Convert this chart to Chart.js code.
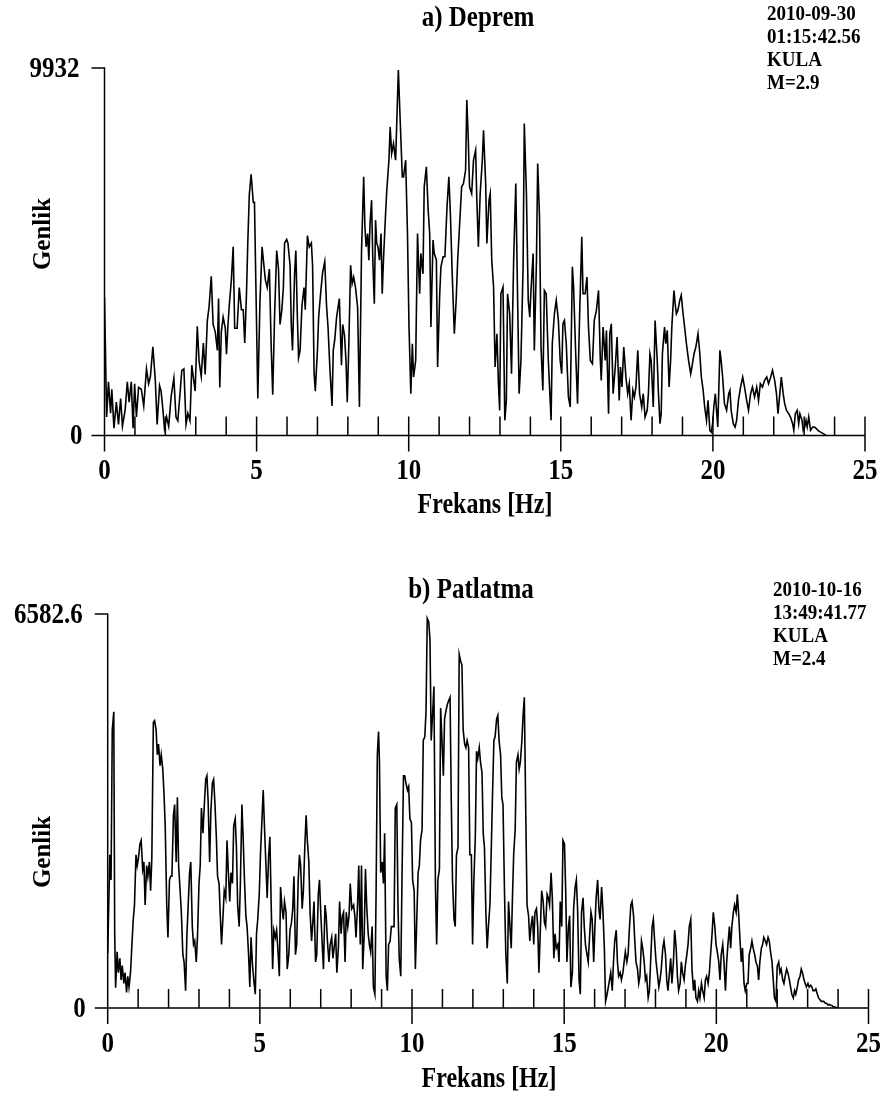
<!DOCTYPE html>
<html>
<head>
<meta charset="utf-8">
<script src="https://cdn.jsdelivr.net/npm/chart.js@4.4.1/dist/chart.umd.min.js"></script>
<style>
  body { margin: 0; background: #fff; }
  canvas { position: absolute; left: 0; }
</style>
</head>
<body>
<canvas id="deprem" width="885" height="550" style="top:0"></canvas>
<canvas id="patlatma" width="885" height="550" style="top:550px"></canvas>
<script>
// a) Deprem - frekans (Hz) / genlik
var freqA = [
  0.00,0.07,0.13,0.20,0.24,0.31,0.39,0.46,0.53,0.59,
  0.68,0.75,0.81,0.88,0.94,0.99,1.05,1.12,1.21,1.29,
  1.38,1.45,1.51,1.59,1.67,1.73,1.81,1.86,1.92,1.97,
  2.04,2.11,2.19,2.28,2.35,2.41,2.48,2.54,2.61,2.68,
  2.74,2.81,2.87,2.94,2.98,3.05,3.11,3.18,3.25,3.31,
  3.38,3.44,3.51,3.57,3.64,3.71,3.75,3.79,3.84,3.90,
  3.97,4.01,4.06,4.10,4.17,4.23,4.28,4.36,4.43,4.50,
  4.56,4.61,4.67,4.71,4.76,4.82,4.89,4.93,4.98,5.04,
  5.11,5.18,5.24,5.29,5.35,5.42,5.48,5.53,5.59,5.66,
  5.72,5.77,5.83,5.88,5.92,5.99,6.03,6.10,6.14,6.18,
  6.25,6.29,6.34,6.38,6.43,6.49,6.56,6.60,6.67,6.73,
  6.80,6.84,6.89,6.93,7.00,7.04,7.11,7.17,7.24,7.30,
  7.35,7.41,7.48,7.52,7.57,7.63,7.72,7.79,7.83,7.89,
  7.94,7.98,8.03,8.09,8.14,
  8.19,8.25,8.32,8.38,8.45,8.52,8.56,8.60,8.65,8.69,
  8.73,8.78,8.82,8.87,8.91,8.95,8.99,9.04,9.09,9.13,
  9.17,9.24,9.28,9.35,9.39,9.44,9.50,9.57,9.61,9.66,
  9.72,9.79,9.83,9.90,9.96,10.01,10.07,10.12,10.16,10.23,
  10.29,10.36,10.40,10.47,10.51,10.58,10.64,10.69,10.73,10.80,
  10.84,10.91,10.95,11.02,11.06,11.13,11.19,11.26,11.32,11.37,
  11.43,11.50,11.56,11.61,11.67,11.74,11.80,11.87,11.91,11.96,
  12.00,12.07,12.13,12.20,12.24,12.29,12.35,12.42,12.46,12.53,
  12.57,12.64,12.68,12.73,12.79,12.84,12.90,12.95,12.99,13.03,
  13.10,13.16,13.21,13.25,13.32,13.38,13.45,13.52,13.56,13.63,
  13.69,13.76,13.80,13.87,13.93,13.98,14.02,14.09,14.13,14.20,
  14.24,14.30,14.35,14.41,14.46,14.52,14.59,14.68,14.72,14.79,
  14.85,14.92,14.98,15.03,15.07,15.12,15.18,15.25,15.31,15.38,
  15.42,15.49,15.55,15.62,15.69,15.73,15.80,15.86,15.91,15.97,
  16.04,16.10,16.17,16.24,16.30,
  16.33,16.39,16.46,16.50,16.57,16.61,16.66,16.72,16.79,16.85,
  16.92,16.96,17.01,17.07,17.14,17.20,17.25,17.31,17.37,17.42,
  17.47,17.53,17.59,17.66,17.71,17.77,17.84,17.88,17.93,17.97,
  18.04,18.10,18.17,18.21,18.26,18.30,18.34,18.41,18.45,18.50,
  18.56,18.61,18.65,18.72,18.76,18.80,18.85,18.91,18.96,19.02,
  19.07,19.13,19.20,19.27,19.31,19.38,19.44,19.51,19.57,19.62,
  19.68,19.73,19.79,19.84,19.90,19.95,19.99,20.03,20.08,20.12,
  20.16,20.23,20.27,20.32,20.38,20.45,20.52,20.56,20.60,20.67,
  20.73,20.78,20.84,20.91,20.98,21.04,21.11,21.17,21.24,21.30,
  21.37,21.44,21.50,21.56,21.63,21.70,21.77,21.83,21.90,21.96,
  22.03,22.09,22.14,22.18,22.25,22.31,22.36,22.42,22.49,22.55,
  22.62,22.66,22.71,22.77,22.82,22.86,22.93,22.97,23.02,23.06,
  23.10,23.15,23.21,23.28,23.34,23.41,23.45,23.54,23.63,23.72
];
var ampA = [
  3740,500,1450,600,1250,200,900,300,1000,250,
  700,1450,900,1450,200,1400,500,1300,1250,800,
  1800,1400,1600,2400,1500,300,1350,1200,700,200,
  500,250,1050,1550,500,400,1100,1750,1800,300,
  600,400,1900,1450,1200,2950,2000,1600,2500,1650,
  3100,3500,4300,3000,2800,2300,3700,1300,2800,3200,
  2900,2200,3000,3500,4200,5100,2900,2900,4000,3400,
  3400,2500,3900,5200,6500,7060,6300,6300,3900,1000,
  3600,5100,4600,4200,4000,4500,2400,1100,3200,5000,
  4500,3000,3400,4000,5200,5300,5200,4600,3000,2300,
  4400,5000,3200,2100,2300,3500,4000,3400,5400,5100,
  5200,4600,1700,1200,2300,3200,3900,4400,4700,3500,
  2900,1800,800,2300,2600,3200,3700,1900,3000,2700,
  2000,900,2400,4600,4100,
  4280,4010,3470,770,5010,6990,5640,5100,5460,4740,
  5730,6360,4740,3560,5820,5190,5100,4740,5460,3830,
  4740,6000,6630,7440,8340,7620,7890,7440,8520,9880,
  8520,6990,6990,7440,5460,2930,1130,2480,1580,2030,
  5460,3830,4920,4370,6720,7260,6090,5460,2930,5280,
  4920,4740,1850,3830,4560,4830,4830,6180,6990,6000,
  4370,2750,3650,4740,5640,6720,6810,7170,9070,7980,
  6720,6540,7440,7710,6360,5100,6540,7440,8250,6810,
  5190,6360,6540,4740,4010,1850,2750,1400,680,3830,
  4010,410,950,3830,3290,1670,4740,6810,4740,1130,
  2030,4560,8430,6540,3650,3200,3920,4920,2300,4740,
  7350,5910,2390,1220,3920,3830,2030,410,2480,3290,
  3650,3110,2030,1670,3020,3110,2480,1040,770,4560,
  4010,2210,860,3290,5370,3830,3830,4280,2930,2030,
  1940,3110,3380,3920,2030,
  1490,2930,2030,2840,590,2750,3020,1130,1850,2660,
  950,1850,1310,2390,1580,1130,1400,410,1220,1040,
  1310,2300,1130,770,1130,500,680,1130,2210,2030,
  770,3110,2030,1130,320,590,2210,2930,2480,2840,
  1310,2030,2930,3920,3560,3290,3380,3650,3790,3290,
  2930,2480,2030,1670,1850,2210,2390,2750,2210,1580,
  1220,770,410,950,140,90,320,770,1130,680,
  230,2300,2030,1580,860,680,1130,1220,680,320,
  230,410,950,1310,1580,1310,950,680,1130,1310,
  1040,1310,950,1400,1310,1490,1580,1400,1580,1760,
  1490,1130,590,950,1580,1130,860,680,590,500,
  320,140,590,680,320,590,410,140,230,410,
  230,500,140,230,230,180,140,90,50,0
];

// b) Patlatma - frekans (Hz) / genlik
var freqB = [
  0.00,0.07,0.11,0.15,0.20,0.23,0.26,0.31,0.35,0.40,
  0.44,0.48,0.53,0.57,0.62,0.66,0.70,0.75,0.79,0.84,
  0.88,0.93,0.97,1.01,1.06,1.10,1.15,1.19,1.23,1.28,
  1.32,1.37,1.41,1.45,1.50,1.54,1.59,1.63,1.67,1.72,
  1.76,1.81,1.85,1.89,1.94,1.98,2.03,2.07,2.11,2.16,
  2.20,2.25,2.29,2.33,2.38,2.42,2.47,2.51,2.56,2.60,
  2.64,2.69,2.73,2.78,2.82,2.86,2.91,2.95,3.00,3.04,
  3.08,3.13,3.17,3.22,3.26,3.30,3.35,3.39,3.44,3.48,
  3.52,3.57,3.61,3.66,3.70,3.74,3.79,3.83,3.88,3.92,
  3.96,4.01,4.05,4.10,4.14,4.19,4.23,4.27,4.32,4.36,
  4.41,4.45,4.49,4.54,4.58,4.63,4.67,4.71,4.76,4.80,
  4.85,4.89,4.93,4.98,5.02,5.07,5.11,5.15,5.20,5.24,
  5.29,5.33,5.37,5.42,5.46,5.51,5.55,5.59,5.64,5.68,
  5.73,5.77,5.81,5.86,5.90,5.95,5.99,6.04,6.08,6.12,
  6.17,6.21,6.26,6.30,6.34,6.39,6.43,6.48,6.52,6.56,
  6.61,6.65,6.70,6.74,6.78,6.83,6.87,6.92,6.96,7.00,
  7.05,7.09,7.14,7.18,7.22,7.27,7.31,7.36,7.40,7.44,
  7.49,7.53,7.58,7.62,7.67,7.71,7.75,7.80,7.84,7.89,
  7.93,7.97,8.02,
  8.08,8.12,8.16,8.21,8.25,8.30,8.34,8.38,8.43,8.47,
  8.51,8.56,8.60,8.64,8.69,8.73,8.78,8.82,8.86,8.90,
  8.93,8.97,9.02,9.06,9.10,9.15,9.19,9.23,9.28,9.32,
  9.37,9.41,9.45,9.50,9.54,9.58,9.63,9.67,9.72,9.76,
  9.80,9.85,9.89,9.93,9.98,10.02,10.07,10.11,10.15,10.20,
  10.24,10.28,10.33,10.37,10.42,10.46,10.50,10.55,10.59,10.63,
  10.68,10.72,10.77,10.81,10.85,10.90,10.94,10.98,11.03,11.07,
  11.11,11.16,11.20,11.25,11.29,11.33,11.38,11.42,11.46,11.51,
  11.55,11.60,11.64,11.68,11.73,11.77,11.81,11.86,11.90,11.95,
  11.99,12.03,12.08,12.12,12.16,12.21,12.25,12.30,12.34,12.38,
  12.43,12.47,12.51,12.56,12.60,12.64,12.69,12.73,12.78,12.82,
  12.86,12.91,12.95,12.99,13.04,13.08,13.13,13.17,13.21,13.26,
  13.30,13.34,13.39,13.43,13.48,13.52,13.56,13.61,13.65,13.69,
  13.74,13.78,13.83,13.87,13.91,13.96,14.00,14.04,14.09,14.13,
  14.17,14.22,14.26,14.31,14.35,14.39,14.44,14.48,14.52,14.57,
  14.61,14.66,14.70,14.74,14.79,14.83,14.87,14.92,14.96,15.01,
  15.05,15.09,15.14,15.18,15.22,15.27,15.31,15.36,15.40,15.44,
  15.49,15.53,15.57,15.62,15.66,15.70,15.75,15.79,15.84,15.88,
  15.92,15.97,16.01,16.05,16.10,16.14,
  16.18,16.23,16.27,16.32,16.36,16.41,16.45,16.49,16.53,16.58,
  16.62,16.66,16.71,16.75,16.79,16.84,16.88,16.93,16.97,17.01,
  17.06,17.10,17.14,17.19,17.23,17.28,17.32,17.36,17.41,17.45,
  17.49,17.54,17.58,17.63,17.67,17.71,17.76,17.80,17.84,17.89,
  17.93,17.98,18.02,18.06,18.11,18.15,18.19,18.24,18.28,18.33,
  18.37,18.41,18.46,18.50,18.54,18.59,18.63,18.68,18.72,18.76,
  18.81,18.85,18.89,18.94,18.98,19.03,19.07,19.11,19.16,19.20,
  19.25,19.29,19.33,19.38,19.42,19.46,19.51,19.55,19.60,19.64,
  19.68,19.73,19.77,19.81,19.86,19.90,19.95,19.99,20.03,20.08,
  20.12,20.16,20.21,20.25,20.30,20.34,20.38,20.43,20.47,20.51,
  20.56,20.60,20.65,20.69,20.73,20.78,20.82,20.86,20.91,20.95,
  21.00,21.04,21.08,21.13,21.17,21.21,21.26,21.30,21.35,21.39,
  21.43,21.48,21.52,21.56,21.61,21.65,21.70,21.74,21.78,21.83,
  21.87,21.91,21.96,22.00,22.05,22.09,22.13,22.18,22.22,22.26,
  22.31,22.35,22.40,22.44,22.48,22.53,22.57,22.61,22.66,22.70,
  22.75,22.79,22.83,22.88,22.92,22.96,23.01,23.05,23.10,23.14,
  23.18,23.23,23.27,23.32,23.36,23.40,23.45,23.49,23.53,23.58,
  23.62,23.67,23.71,23.75,23.80,23.84,23.88,23.93,23.97
];
var ampB = [
  910,2560,2140,4650,4950,1240,340,940,590,830,
  470,710,410,590,260,530,350,590,1000,1480,
  1720,2560,2380,2500,2740,2800,2320,2440,1720,2380,
  2200,2440,1960,2500,4770,4800,4650,4230,4410,4050,
  4230,3990,3580,3040,1720,1180,2140,2200,2200,3220,
  3400,2440,3520,2380,1960,1600,890,770,290,1180,
  1660,2260,2440,1360,1060,1120,770,1180,2080,2380,
  3340,2920,3340,3820,3880,3460,2440,3280,3760,3820,
  3460,2860,2200,2080,1540,1060,1540,1960,1840,2800,
  2320,1780,2260,2080,3040,3160,2680,1720,1360,2080,
  3400,2860,2200,1540,1360,890,350,1180,710,470,
  230,1240,1480,1900,2560,3160,3640,3040,2380,1840,
  2560,2860,1780,650,1300,1180,1300,1000,530,2020,
  1660,1480,1780,1600,650,890,1300,1430,1660,2200,
  890,1060,2140,2560,2380,1660,1960,2740,3220,2800,
  2440,1600,1120,1430,1780,770,890,1900,2140,1600,
  1060,650,1720,1540,1120,770,1060,1180,830,1000,
  1240,590,1000,1780,1240,1540,1600,770,1600,1360,
  1540,2080,1660,
  1720,1540,1180,1720,2380,1060,2380,650,1240,2320,
  1720,1240,1060,940,1360,350,230,1960,4230,4620,
  4110,2260,2440,2080,2920,530,290,1060,1120,1360,
  1360,1360,3340,3400,1660,830,530,2140,3880,3880,
  3760,3640,3700,3160,3100,2140,1960,650,1360,2260,
  2380,2800,2980,4470,4530,4950,6510,6450,6150,4470,
  4950,5370,2020,1060,2140,2320,5010,4530,3880,4830,
  4950,5070,5130,5190,3460,2140,1480,1360,2560,2680,
  5910,5790,5730,4650,4410,4350,4470,4350,2560,2560,
  1060,2080,2860,4290,4170,4350,4110,3930,2920,2680,
  1540,1000,1360,1720,2560,3460,4470,4530,4830,4890,
  4470,4230,3520,3400,1900,940,410,1780,1430,1000,
  1840,2560,2980,4110,4230,3990,4110,4470,4890,5190,
  3160,1720,1540,1120,1360,1540,1060,1600,1660,1360,
  590,1360,1960,1780,1430,1360,1900,1840,1720,2260,
  1840,830,1240,1000,1060,770,1780,1360,2800,2740,
  1960,770,1360,1540,350,590,1660,2020,2140,1660,
  470,230,1600,1840,1360,1060,890,770,1240,1600,
  1480,770,1360,1840,2140,1660,
  1480,2020,1660,1000,110,230,350,470,590,290,
  770,1120,1300,770,530,590,470,590,770,940,
  770,890,1300,1720,1780,1540,1120,770,650,410,
  530,1120,1000,770,470,530,170,290,770,1360,
  1480,1060,770,590,350,470,650,1000,1120,890,
  470,290,590,830,410,770,1300,1000,530,290,
  410,770,590,470,700,890,1060,1360,1480,650,
  290,470,170,110,290,170,410,290,170,470,
  530,410,590,890,1240,1600,1360,1060,940,770,
  470,890,1060,770,290,770,1060,1360,1000,1360,
  1600,1720,1600,1900,1600,1120,770,1000,410,290,
  410,410,890,1000,1120,1000,890,770,700,470,
  770,1000,1060,1180,1120,1060,1180,1120,940,770,
  470,170,110,700,770,590,650,470,410,530,
  650,590,470,350,230,170,290,230,350,470,
  530,650,590,470,410,350,410,350,380,350,
  290,290,320,230,170,140,110,110,110,80,
  80,50,60,50,40,20,20,10,0
];

var ticksX = [0, 5, 10, 15, 20, 25];
var maxA = 9932;
var maxB = 6582.6;
var infoA = ["2010-09-30", "01:15:42.56", "KULA", "M=2.9"];
var infoB = ["2010-10-16", "13:49:41.77", "KULA", "M=2.4"];

function points(fs, as) {
    var n = Math.min(fs.length, as.length);
    var out = [];
    for (var i = 0; i < n; i++) out.push({x: fs[i], y: as[i]});
    return out;
}

function yaz(ctx, s, x, y, size, align, dik, sy) {
    ctx.save();
    ctx.translate(x, y);
    if (dik) ctx.rotate(-Math.PI / 2);
    else ctx.scale(1, sy || 1.2);
    ctx.font = 'bold ' + size + 'px "Liberation Serif", "Times New Roman", serif';
    ctx.textAlign = align;
    ctx.textBaseline = 'middle';
    ctx.fillStyle = '#000';
    ctx.fillText(s, 0, 0);
    ctx.restore();
}

// eksenler, cizgiler ve yazilar
var cerceve = {
    id: 'cerceve',
    afterDraw: function(chart, args, o) {
        var ctx = chart.ctx, xs = chart.scales.x, ys = chart.scales.y;
        var x0 = xs.getPixelForValue(0), x25 = xs.getPixelForValue(25);
        var yb = ys.getPixelForValue(0), yt = ys.getPixelForValue(ys.max);
        ctx.save();
        ctx.strokeStyle = '#000';
        ctx.lineWidth = 1.5;
        ctx.beginPath();
        ctx.moveTo(x0 - 13, yt); ctx.lineTo(x0, yt); ctx.lineTo(x0, yb);
        ctx.moveTo(x0 - 13, yb); ctx.lineTo(x25, yb);
        for (var f = 0; f <= 25; f++) {
            var px = xs.getPixelForValue(f);
            ctx.moveTo(px, yb - 19);
            ctx.lineTo(px, f % 5 === 0 ? yb + 16 : yb);
        }
        ctx.stroke();
        ctx.restore();

        ticksX.forEach(function(t) {
            yaz(ctx, String(t), xs.getPixelForValue(t), yb + 36, 25, 'center');
        });
        yaz(ctx, o.ust, x0 - 25, yt + 1, 25, 'right');
        yaz(ctx, '0', x0 - 22, yb + 1, 25, 'right');
        yaz(ctx, 'Frekans [Hz]', o.xBaslik[0], o.xBaslik[1], 24, 'center');
        yaz(ctx, 'Genlik', o.yBaslik[0], o.yBaslik[1], 25, 'center', true);
        yaz(ctx, o.baslik, o.baslikXY[0], o.baslikXY[1], 25, 'center');
        o.bilgi.forEach(function(s, i) {
            yaz(ctx, s, o.bilgiXY[0], o.bilgiXY[1] + i * 23, 19, 'left', false, 1.05);
        });
    }
};

function ciz(id, fs, as, ymax, pad, o) {
    var ctx = document.getElementById(id).getContext('2d');
    return new Chart(ctx, {
        type: 'line',
        data: {
            datasets: [{
                data: points(fs, as),
                borderColor: '#000',
                borderWidth: 1.6,
                pointRadius: 0,
                tension: 0,
                fill: false
            }]
        },
        options: {
            responsive: false,
            animation: false,
            devicePixelRatio: 1,
            layout: { padding: pad },
            scales: {
                x: { type: 'linear', min: 0, max: 25, display: false },
                y: { min: 0, max: ymax, display: false }
            },
            plugins: {
                legend: { display: false },
                tooltip: { enabled: false },
                cerceve: o
            }
        },
        plugins: [cerceve]
    });
}

ciz('deprem', freqA, ampA, maxA,
    { left: 104.5, right: 20, top: 68, bottom: 114.5 },
    { ust: '9932', baslik: 'a) Deprem', baslikXY: [478, 18],
      xBaslik: [485, 506], yBaslik: [44, 234],
      bilgi: infoA, bilgiXY: [767, 15] });

ciz('patlatma', freqB, ampB, maxB,
    { left: 107.7, right: 16.5, top: 64, bottom: 92 },
    { ust: '6582.6', baslik: 'b) Patlatma', baslikXY: [471, 40],
      xBaslik: [489, 530], yBaslik: [44, 302],
      bilgi: infoB, bilgiXY: [773, 41] });
</script>
</body>
</html>
